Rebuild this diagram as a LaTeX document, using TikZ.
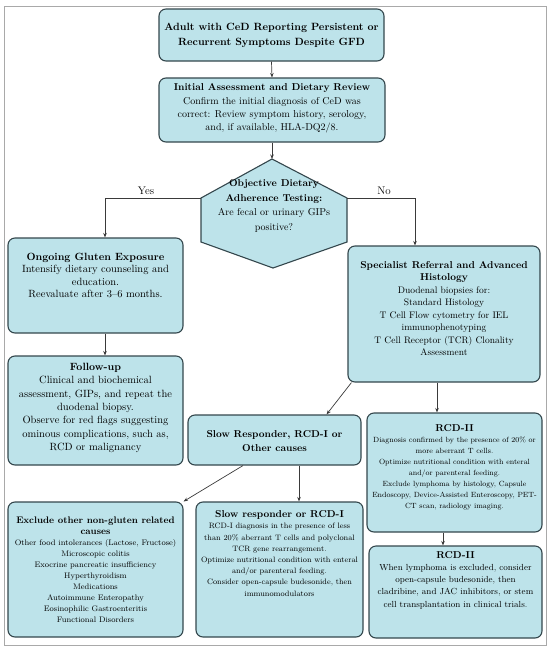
\documentclass[tikz,border=0pt]{standalone}
\usetikzlibrary{arrows.meta}
\definecolor{boxfill}{HTML}{BDE3EA}
\definecolor{boxline}{HTML}{34474D}
\definecolor{framegray}{HTML}{A9A9A9}
\definecolor{conn}{HTML}{3A3A3A}
\tikzset{
  box/.style={draw=boxline, fill=boxfill, line width=1.1pt, rounded corners=7pt, inner sep=0pt},
  txt/.style={align=center, inner sep=0pt, text=black},
  arr/.style={draw=conn, line width=0.7pt, -{Stealth[length=4.5pt,width=3.5pt]}},
  lbl/.style={inner sep=0pt, font=\fontsize{11}{13}\selectfont},
}
\newcommand\mybox[5]{\node[box, minimum width={(#4-#2)*1pt}, minimum height={(#5-#3)*1pt}] (#1) at ({(#2+#4)/2},{(#3+#5)/2}) {};}
\newcommand\ttl[1]{{\fontsize{10}{13}\selectfont\bfseries #1}}
\newcommand\ttlsm[1]{{\fontsize{9.5}{13}\selectfont\bfseries #1}}
\begin{document}
\begin{tikzpicture}[x=1pt,y=-1pt]
\useasboundingbox (0,0) rectangle (550,649);
\draw[framegray, line width=1pt] (4,6) rectangle (546,645);

% boxes
\mybox{top}{159}{9}{384}{61}
\mybox{init}{159}{78}{385}{142}
\mybox{ongoing}{8}{238}{183}{333}
\mybox{follow}{8}{356}{183}{465}
\mybox{spec}{348}{246}{540}{382}
\mybox{slowresp}{188}{415}{361}{465}
\mybox{rcdtwoa}{367}{413}{542}{532}
\mybox{excl}{8}{502}{183}{637}
\mybox{slowone}{196}{502}{363}{637}
\mybox{rcdtwob}{369}{546}{542}{638}

% hexagon
\coordinate (hT) at (272,159);
\coordinate (hUL) at (201,198);
\coordinate (hLL) at (201,242);
\coordinate (hB) at (273,268);
\coordinate (hLR) at (347,242);
\coordinate (hUR) at (347,198);
\draw[draw=boxline, fill=boxfill, line width=1.1pt, line join=miter] (hT) -- (hUR) -- (hLR) -- (hB) -- (hLL) -- (hUL) -- cycle;

% texts
\node[txt, font=\fontsize{10.5}{15}\selectfont\bfseries] (topT) at (271.5,35.5)
  {Adult with CeD Reporting Persistent or\\Recurrent Symptoms Despite GFD};
\node[txt, font=\fontsize{10}{13.2}\selectfont] (initT) at (272,108.5)
  {\textbf{Initial Assessment and Dietary Review}\\Confirm the initial diagnosis of CeD was\\correct: Review symptom history, serology,\\and, if available, HLA-DQ2/8.};
\node[txt, font=\fontsize{10}{14.5}\selectfont] (hex) at (274,206)
  {\textbf{Objective Dietary}\\\textbf{Adherence Testing:}\\Are fecal or urinary GIPs\\positive?};
\node[txt, font=\fontsize{10.5}{12.4}\selectfont] (ongoingT) at (95.5,275.5)
  {\textbf{Ongoing Gluten Exposure}\\Intensify dietary counseling and\\education.\\Reevaluate after 3--6 months.};
\node[txt, font=\fontsize{10.5}{13.3}\selectfont] (followT) at (95.5,408)
  {\textbf{Follow-up}\\Clinical and biochemical\\assessment, GIPs, and repeat the\\duodenal biopsy.\\Observe for red flags suggesting\\ominous complications, such as,\\RCD or malignancy};
\node[txt, font=\fontsize{9.5}{12.5}\selectfont] (specT) at (444,308.5)
  {\ttl{Specialist Referral and Advanced}\\\ttl{Histology}\\Duodenal biopsies for:\\Standard Histology\\T Cell Flow cytometry for IEL\\immunophenotyping\\T Cell Receptor (TCR) Clonality\\Assessment};
\node[txt, font=\fontsize{10}{14}\selectfont\bfseries] (slowrespT) at (274.5,441)
  {Slow Responder, RCD-I or\\Other causes};
\node[txt, font=\fontsize{7.5}{11}\selectfont] (rcdtwoaT) at (454.5,467)
  {\ttl{RCD-II}\\Diagnosis confirmed by the presence of 20\% or\\more aberrant T cells.\\Optimize nutritional condition with enteral\\and/or parenteral feeding.\\Exclude lymphoma by histology, Capsule\\Endoscopy, Device-Assisted Enteroscopy, PET-\\CT scan, radiology imaging.};
\node[txt, font=\fontsize{8}{11}\selectfont] (exclT) at (95.5,570)
  {\ttlsm{Exclude other non-gluten related}\\\ttlsm{causes}\\Other food intolerances (Lactose, Fructose)\\Microscopic colitis\\Exocrine pancreatic insufficiency\\Hyperthyroidism\\Medications\\Autoimmune Enteropathy\\Eosinophilic Gastroenteritis\\Functional Disorders};
\node[txt, font=\fontsize{7.8}{11.2}\selectfont] (slowoneT) at (279.5,553.5)
  {\ttl{Slow responder or RCD-I}\\RCD-I diagnosis in the presence of less\\than 20\% aberrant T cells and polyclonal\\TCR gene rearrangement.\\Optimize nutritional condition with enteral\\and/or parenteral feeding.\\Consider open-capsule budesonide, then\\immunomodulators};
\node[txt, font=\fontsize{8.8}{12.2}\selectfont] (rcdtwobT) at (455.5,580)
  {\ttl{RCD-II}\\When lymphoma is excluded, consider\\open-capsule budesonide, then\\cladribine, and JAC inhibitors, or stem\\cell transplantation in clinical trials.};

% labels
\node[lbl] (yes) at (146,191) {Yes};
\node[lbl] (no) at (384,191) {No};

% connectors
\draw[arr] (top.south) -- (init.north);
\draw[arr] (init.south) -- (hT);
\draw[arr] (hUL) -| ([xshift=9.5pt]ongoing.north);
\draw[arr] (hUR) -| ([xshift=-29pt]spec.north);
\draw[arr] ([xshift=9.5pt]ongoing.south) -- ([xshift=9.5pt]follow.north);
\draw[arr] ([xshift=-7pt]spec.south) -- ([xshift=-17.5pt]rcdtwoa.north);
\draw[arr] ([xshift=4pt]spec.south west) -- ([xshift=-35pt]slowresp.north east);
\draw[arr] ([xshift=-31.5pt]slowresp.south) -- (excl.north east);
\draw[arr] ([xshift=24.5pt]slowresp.south) -- ([xshift=19.5pt]slowone.north);
\draw[arr] ([xshift=-11.5pt]rcdtwoa.south) -- ([xshift=-12.5pt]rcdtwob.north);
\end{tikzpicture}
\end{document}
